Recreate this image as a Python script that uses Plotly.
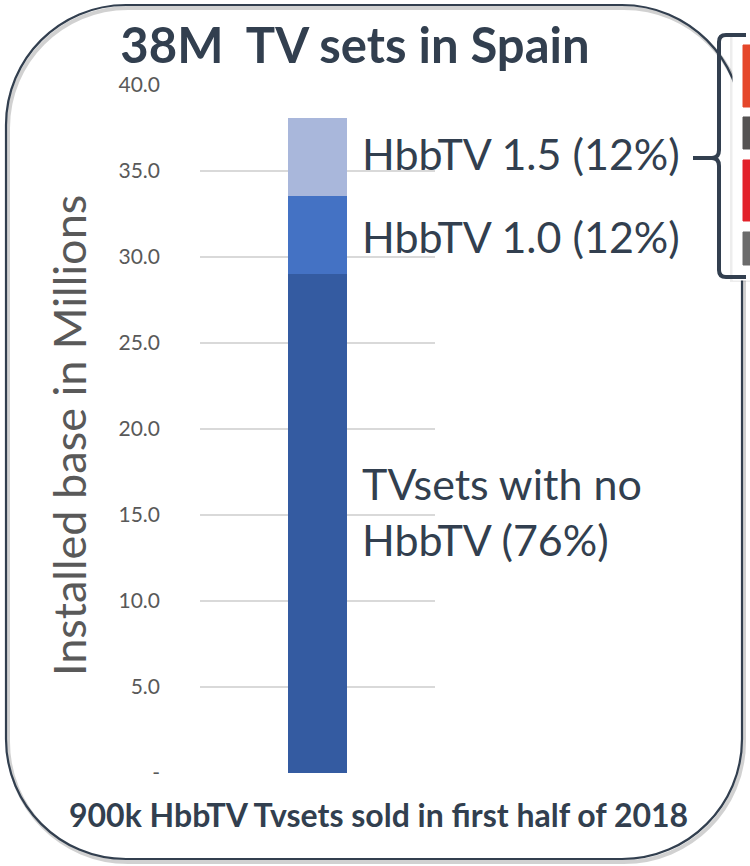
import plotly.graph_objects as go

# ---------------- data ----------------
categories = ["Spain"]
series_names = ["TVsets with no HbbTV", "HbbTV 1.0", "HbbTV 1.5"]
series_values = [[29.0], [4.55], [4.55]]
series_colors = ["#345BA1", "#4472C4", "#A9B7DB"]
series_labels = ["TVsets with no<br>HbbTV (76%)", "HbbTV 1.0 (12%)", "HbbTV 1.5 (12%)"]
label_yshift = [12, -1, 3]
tick_vals = [0, 5, 10, 15, 20, 25, 30, 35, 40]
tick_text = ["-", "5.0", "10.0", "15.0", "20.0", "25.0", "30.0", "35.0", "40.0"]
title_text = "38M  TV sets in Spain"
yaxis_title = "Installed base in Millions"
footer_text = "900k HbbTV Tvsets sold in first half of 2018"

# ---------------- layout geometry (screen pixels) ----------------
SW, SH = 750, 866
FW, FH = SW, SH
PL, PR, PT, PB = 200, 435, 85, 773
PW, PH = PR - PL, PB - PT

DARK = "#323F4F"
GRAY = "#595959"
FONT = "Lato"


def pp(x, y):
    return (x - PL) / PW, (PB - y) / PH


def path(points_cmds):
    out = []
    for cmd, pts in points_cmds:
        coords = []
        for (x, y) in pts:
            a, b = pp(x, y)
            coords.append(f"{a:.5f},{b:.5f}")
        out.append(cmd + " ".join(coords))
    return " ".join(out)


def rounded_rect(x0, y0, x1, y1, r):
    k = 0.5523 * r
    return path([
        ("M", [(x0 + r, y0)]),
        ("L", [(x1 - r, y0)]),
        ("C", [(x1 - r + k, y0), (x1, y0 + r - k), (x1, y0 + r)]),
        ("L", [(x1, y1 - r)]),
        ("C", [(x1, y1 - r + k), (x1 - r + k, y1), (x1 - r, y1)]),
        ("L", [(x0 + r, y1)]),
        ("C", [(x0 + r - k, y1), (x0, y1 - r + k), (x0, y1 - r)]),
        ("L", [(x0, y0 + r)]),
        ("C", [(x0, y0 + r - k), (x0 + r - k, y0), (x0 + r, y0)]),
    ]) + " Z"


def rect(x0, y0, x1, y1):
    return path([("M", [(x0, y0)]), ("L", [(x1, y0)]), ("L", [(x1, y1)]),
                 ("L", [(x0, y1)])]) + " Z"


fig = go.Figure()
for name, vals, col in zip(series_names, series_values, series_colors):
    fig.add_trace(go.Bar(x=categories, y=vals, name=name, marker_color=col,
                         marker_line_width=0, width=0.255, showlegend=False,
                         hoverinfo="skip"))

# segment labels anchored at segment mid-points
annotations = []
cum = 0
for vals, lab, ys in zip(series_values, series_labels, label_yshift):
    mid = cum + vals[0] / 2
    cum += vals[0]
    annotations.append(dict(x=categories[0], y=mid, xref="x", yref="y", text=lab,
                            showarrow=False, xanchor="left", yanchor="middle",
                            xshift=42, yshift=ys, align="left",
                            font=dict(family=FONT, size=43, color=DARK)))

fx, fy = pp(378, 814)
annotations.append(dict(x=fx, y=fy, xref="paper", yref="paper", text=footer_text,
                        showarrow=False, xanchor="center", yanchor="middle",
                        font=dict(family=FONT, size=32, color=DARK, weight="bold")))

# y-axis title (rotated)
tx, ty = pp(69, 436)
annotations.append(dict(x=tx, y=ty, xref="paper", yref="paper", text=yaxis_title,
                        showarrow=False, textangle=-90, xanchor="center", yanchor="middle",
                        font=dict(family=FONT, size=45, color=GRAY)))

shapes = []
# border shadow + border
shapes.append(dict(type="path", xref="paper", yref="paper",
                   path=rounded_rect(8, 8, 744, 862, 120),
                   line=dict(color="rgba(0,0,0,0.18)", width=4), layer="below"))
shapes.append(dict(type="path", xref="paper", yref="paper",
                   path=rounded_rect(6, 5, 742, 859, 120),
                   line=dict(color=DARK, width=2.2), layer="below"))
# partially visible box at right
shapes.append(dict(type="path", xref="paper", yref="paper", path=rect(730, 34, 752, 282),
                   fillcolor="rgba(0,0,0,0.07)", line=dict(color="rgba(0,0,0,0)", width=1)))
shapes.append(dict(type="path", xref="paper", yref="paper", path=rect(733, 32, 752, 280),
                   fillcolor="white", line=dict(color="white", width=1)))
for (y0, y1, c) in [(45, 107, "#E5472A"), (117, 149, "#555353"),
                    (160, 221, "#E2212A"), (232, 265, "#6B6B6B")]:
    shapes.append(dict(type="path", xref="paper", yref="paper", path=rect(743, y0, 752, y1),
                       fillcolor=c, line=dict(color=c, width=1)))
# bracket
br = path([("M", [(746, 35)]), ("L", [(726, 35)]),
           ("Q", [(719, 35), (719, 42)]), ("L", [(719, 150)]),
           ("Q", [(719, 158), (712, 158)]), ("L", [(693, 158)]),
           ("M", [(712, 158)]), ("Q", [(719, 158), (719, 166)]),
           ("L", [(719, 270)]), ("Q", [(719, 277), (726, 277)]), ("L", [(746, 277)])])
shapes.append(dict(type="path", xref="paper", yref="paper", path=br,
                   line=dict(color=DARK, width=4)))

fig.update_layout(
    width=FW, height=FH,
    margin=dict(l=PL, r=SW - PR, t=PT, b=SH - PB, autoexpand=False),
    paper_bgcolor="white", plot_bgcolor="white",
    barmode="stack", bargap=0,
    title=dict(text=title_text, x=355 / FW, y=1 - 46 / FH,
               xanchor="center", yanchor="middle",
               font=dict(family=FONT, size=49, color=DARK, weight="bold")),
    xaxis=dict(visible=False, range=[-0.5, 0.5]),
    yaxis=dict(range=[0, 40], tickvals=tick_vals, ticktext=tick_text,
               showgrid=True, gridcolor="#D9D9D9", gridwidth=1.5, zeroline=False,
               showline=False, ticks="", ticklabelstandoff=39,
               tickfont=dict(family=FONT, size=21, color=GRAY)),
    annotations=annotations, shapes=shapes,
)

fig.write_html("out.html", config={"displayModeBar": False},
               post_script="document.body.style.margin='0';document.body.style.overflow='hidden';")
